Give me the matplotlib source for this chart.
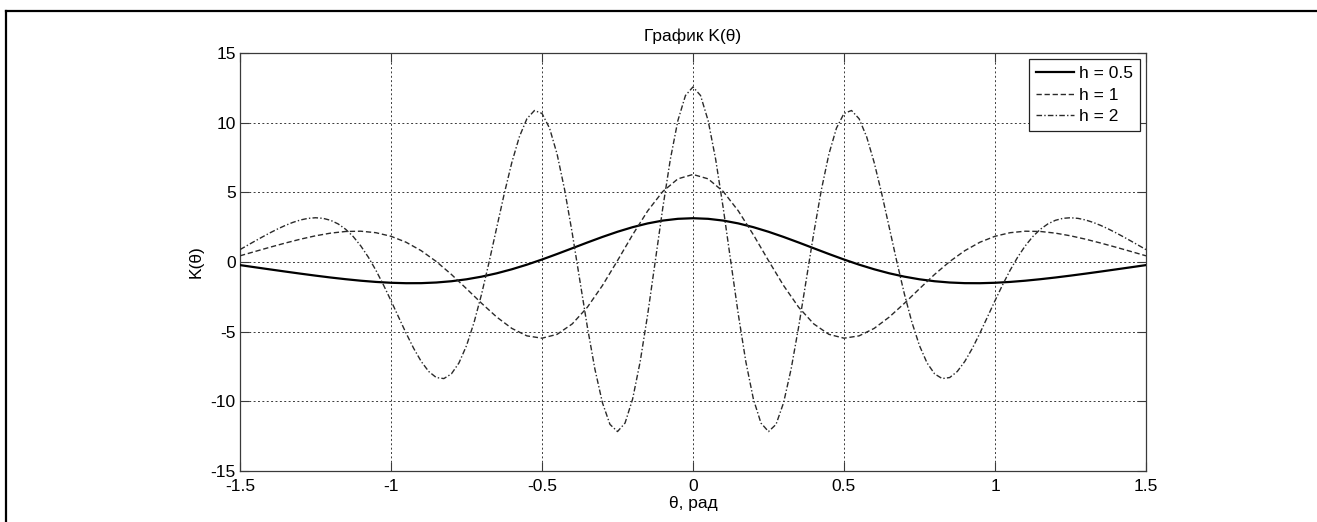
import matplotlib
matplotlib.use("Agg")
import matplotlib.pyplot as plt
import numpy as np
from matplotlib.lines import Line2D

# K(theta) is even, values read for theta >= 0 and mirrored
theta_coarse = np.linspace(0.0, 1.5, 31)   # step 0.05
theta_fine = np.linspace(0.0, 1.5, 61)     # step 0.025

k_h05 = [3.142, 3.099, 2.973, 2.770, 2.499, 2.170, 1.798, 1.398, 0.985, 0.574,
         0.178, -0.191, -0.523, -0.812, -1.052, -1.242, -1.381, -1.472, -1.518, -1.522,
         -1.491, -1.430, -1.343, -1.235, -1.113, -0.978, -0.835, -0.686, -0.533, -0.379,
         -0.222]

k_h1 = [6.283, 5.969, 5.062, 3.670, 1.952, 0.099, -1.693, -3.253, -4.446, -5.192,
        -5.468, -5.302, -4.764, -3.949, -2.964, -1.915, -0.892, 0.033, 0.812, 1.418,
        1.846, 2.103, 2.210, 2.191, 2.072, 1.880, 1.637, 1.360, 1.064, 0.756,
        0.444]

k_h2 = [12.566, 11.948, 10.156, 7.374, 3.889, 0.051, -3.756, -7.161, -9.841, -11.557,
        -12.169, -11.654, -10.094, -7.670, -4.634, -1.280, 2.086, 5.175, 7.742, 9.607,
        10.662, 10.873, 10.281, 8.986, 7.134, 4.899, 2.465, 0.013, -2.299, -4.337,
        -6.006, -7.244, -8.029, -8.367, -8.293, -7.860, -7.136, -6.195, -5.109, -3.949,
        -2.777, -1.645, -0.594, 0.345, 1.153, 1.821, 2.346, 2.733, 2.992, 3.134,
        3.176, 3.131, 3.015, 2.842, 2.625, 2.375, 2.100, 1.809, 1.508, 1.200,
        0.889]

series_labels = ["h = 0.5", "h = 1", "h = 2"]

x_ticks = [-1.5, -1, -0.5, 0, 0.5, 1, 1.5]
x_tick_labels = ["-1.5", "-1", "-0.5", "0", "0.5", "1", "1.5"]
y_ticks = [-15, -10, -5, 0, 5, 10, 15]
y_tick_labels = ["-15", "-10", "-5", "0", "5", "10", "15"]


def mirror(x, y):
    x = np.asarray(x, dtype=float)
    y = np.asarray(y, dtype=float)
    return np.concatenate([-x[:0:-1], x]), np.concatenate([y[:0:-1], y])


plt.rcParams["font.family"] = ["Liberation Sans", "DejaVu Sans"]
plt.rcParams["axes.unicode_minus"] = False
fs = 12.5

W, H = 1317, 522
fig = plt.figure(figsize=(W / 100, H / 100), dpi=100)
ax = fig.add_axes([240 / W, 1 - 471 / H, (1146 - 240) / W, (471 - 53) / H])

axis_col = "#3a3a3a"
line_col = "#2a2a2a"

x, y = mirror(theta_coarse, k_h05)
ax.plot(x, y, color="black", lw=1.6, label=series_labels[0], zorder=3)
x, y = mirror(theta_coarse, k_h1)
ax.plot(x, y, color=line_col, lw=1.0, dashes=(3.8, 2.0), label=series_labels[1], zorder=3)
x, y = mirror(theta_fine, k_h2)
ax.plot(x, y, color=line_col, lw=1.0, dashes=(4.0, 1.6, 1.0, 1.6), label=series_labels[2], zorder=3)

ax.set_xlim(-1.5, 1.5)
ax.set_ylim(-15, 15)
ax.set_xticks(x_ticks, x_tick_labels)
ax.set_yticks(y_ticks, y_tick_labels)
ax.tick_params(direction="in", length=6.5, width=0.8, color=axis_col,
               labelsize=fs, top=True, right=True, pad=5.5)
ax.tick_params(axis="y", pad=3)
for s in ax.spines.values():
    s.set_color(axis_col)
    s.set_linewidth(0.9)

ax.grid(True, color=axis_col, lw=0.7, linestyle=(0, (2.0, 2.5)), zorder=1)

ax.set_title("График K(θ)", fontsize=fs, pad=9)
ax.set_xlabel("θ, рад", fontsize=fs, labelpad=2)
ax.set_ylabel("K(θ)", fontsize=fs, labelpad=5)

leg = ax.legend(loc="upper right", fontsize=fs, fancybox=False, framealpha=1,
                edgecolor="#222222", handlelength=2.2, handletextpad=0.3,
                labelspacing=0.36, borderpad=0.4, borderaxespad=0.35)
leg.get_frame().set_linewidth(0.9)

# outer frame of the original figure (left and top edges only)
fig.add_artist(Line2D([5.7 / W, 5.7 / W], [0, 1 - 11 / H], transform=fig.transFigure,
                      color="black", lw=1.6))
fig.add_artist(Line2D([5.7 / W, 1], [1 - 11 / H, 1 - 11 / H], transform=fig.transFigure,
                      color="black", lw=1.6))

fig.savefig("out.png", dpi=100)
